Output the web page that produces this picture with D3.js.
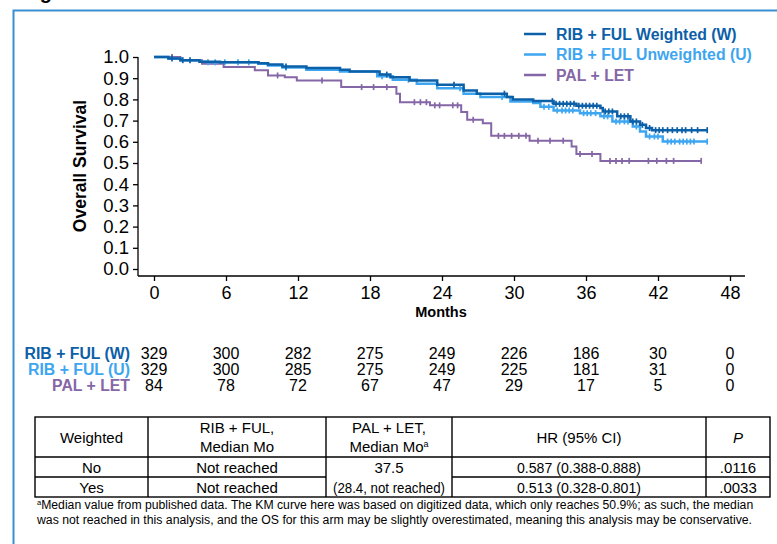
<!DOCTYPE html>
<html>
<head>
<meta charset="utf-8">
<script src="https://cdn.jsdelivr.net/npm/d3@7"></script>
<style>
	body { margin: 0; background: #fff; }
	svg { display: block; font-family: Arial, 'Liberation Sans', sans-serif; }
	.narrow { font-family: 'Liberation Sans Narrow', 'Arial Narrow', Arial, 'Liberation Sans', sans-serif; }
</style>
</head>
<body>
<div id="chart"></div>
<script>
// ---- data ----
const monthTicks = [ 0, 6, 12, 18, 24, 30, 36, 42, 48 ];
const survTicks = [ 0, 0.1, 0.2, 0.3, 0.4, 0.5, 0.6, 0.7, 0.8, 0.9, 1.0 ];

// KM steps: [month, survival after the drop]
const wSteps = [
	[ 0, 1.0 ], [ 1.2, 0.993 ], [ 2.2, 0.985 ], [ 3.8, 0.978 ], [ 5.5, 0.975 ], [ 8.7, 0.97 ], [ 9.5, 0.965 ],
	[ 10.7, 0.955 ], [ 12.7, 0.948 ], [ 15.5, 0.94 ], [ 16.3, 0.932 ], [ 18.8, 0.917 ], [ 19.7, 0.905 ],
	[ 21.3, 0.889 ], [ 23.6, 0.869 ], [ 25.8, 0.842 ], [ 26.9, 0.827 ], [ 29.4, 0.811 ], [ 29.9, 0.8 ],
	[ 31.6, 0.792 ], [ 33.3, 0.779 ], [ 35.2, 0.77 ], [ 37.2, 0.759 ], [ 37.4, 0.743 ], [ 38.6, 0.72 ],
	[ 39.7, 0.696 ], [ 40.5, 0.68 ], [ 41, 0.665 ], [ 41.5, 0.655 ], [ 46.1, 0.655 ]
];
const uSteps = [
	[ 0, 1.0 ], [ 1.2, 0.993 ], [ 2.2, 0.985 ], [ 3.8, 0.978 ], [ 4.5, 0.975 ], [ 8.7, 0.968 ], [ 9.5, 0.96 ],
	[ 10.7, 0.95 ], [ 12.7, 0.94 ], [ 15.5, 0.932 ], [ 18.6, 0.909 ], [ 19.9, 0.893 ], [ 21.9, 0.874 ],
	[ 23.6, 0.853 ], [ 25.8, 0.827 ], [ 27.2, 0.811 ], [ 29.7, 0.79 ], [ 31.6, 0.783 ], [ 32.2, 0.765 ],
	[ 33.3, 0.748 ], [ 35.5, 0.735 ], [ 37.2, 0.72 ], [ 38.2, 0.696 ], [ 39.9, 0.672 ], [ 40.5, 0.649 ],
	[ 41, 0.625 ], [ 42.4, 0.601 ], [ 46.1, 0.601 ]
];
const palSteps = [
	[ 0, 1.0 ], [ 2.2, 0.985 ], [ 4, 0.968 ], [ 5.8, 0.953 ], [ 8.4, 0.937 ], [ 9.5, 0.913 ], [ 10.9, 0.905 ],
	[ 11.9, 0.889 ], [ 15.6, 0.858 ], [ 20.2, 0.827 ], [ 20.5, 0.787 ], [ 23, 0.772 ], [ 25.6, 0.74 ],
	[ 26.1, 0.704 ], [ 27.4, 0.688 ], [ 28.1, 0.628 ], [ 31.3, 0.605 ], [ 34.8, 0.578 ], [ 35.2, 0.543 ],
	[ 37.2, 0.51 ], [ 45.6, 0.51 ]
];

// censored observations (months)
const wCensor = [ 1.5, 2.4, 3.0, 11.0, 19.4, 25.0, 29.2, 33.2, 33.5, 33.8, 34.1, 34.4, 34.7, 35.0, 35.4, 35.7,
	36.0, 36.3, 36.6, 36.9, 37.6, 37.9, 38.2, 38.9, 39.2, 39.5, 39.9, 40.2, 40.7, 41.3, 41.8, 42.1, 42.4, 42.8,
	43.2, 43.6, 44.0, 44.3, 44.8, 45.3, 46.1 ];
const uCensor = [ 4.5, 5.1, 5.9, 7.0, 7.9, 11.0, 19.0, 21.2, 25.5, 29.0, 32.5, 32.9, 33.6, 34.0, 34.3, 34.6,
	34.9, 35.8, 36.1, 36.4, 36.8, 37.5, 37.8, 38.5, 38.8, 39.2, 39.5, 40.2, 41.3, 41.7, 42.0, 42.8, 43.1, 43.4,
	43.8, 44.1, 44.4, 44.7, 45.0, 46.1 ];
const palCensor = [ 1.5, 10.3, 14.0, 17.3, 18.3, 19.4, 21.7, 22.2, 22.7, 23.4, 23.8, 24.9, 25.3, 26.6, 28.7,
	29.2, 29.8, 30.4, 31.0, 32.0, 33.0, 34.1, 35.5, 36.5, 38.0, 38.5, 39.0, 39.6, 41.2, 41.9, 42.7, 43.3, 45.6 ];

const seriesNames = [ 'RIB + FUL Weighted (W)', 'RIB + FUL Unweighted (U)', 'PAL + LET' ];
const seriesColors = [ '#0c60a8', '#3ea6f0', '#8566a6' ];

// numbers at risk
const riskLabels = [ 'RIB + FUL (W)', 'RIB + FUL (U)', 'PAL + LET' ];
const riskW = [ 329, 300, 282, 275, 249, 226, 186, 30, 0 ];
const riskU = [ 329, 300, 285, 275, 249, 225, 181, 31, 0 ];
const riskPal = [ 84, 78, 72, 67, 47, 29, 17, 5, 0 ];

// summary table
const tableHeader = [ [ 'Weighted' ], [ 'RIB + FUL,', 'Median Mo' ], [ 'PAL + LET,', 'Median Mo' ], [ 'HR (95% CI)' ], [ 'P' ] ];
const tableWeighted = [ 'No', 'Yes' ];
const tableRibMedian = [ 'Not reached', 'Not reached' ];
const tablePalMedian = [ '37.5', '(28.4, not reached)' ];
const tableHR = [ '0.587 (0.388-0.888)', '0.513 (0.328-0.801)' ];
const tableP = [ '.0116', '.0033' ];
const footnote = [
	'Median value from published data. The KM curve here was based on digitized data, which only reaches 50.9%; as such, the median',
	'was not reached in this analysis, and the OS for this arm may be slightly overestimated, meaning this analysis may be conservative.'
];

// ---- layout ----
const dimensions = { width: 777, height: 544 };
const plot = { left: 138, right: 745, top: 57, yZero: 269, axisY: 276 };

const svg = d3.select('#chart').append('svg').attr('width', dimensions.width).attr('height', dimensions.height);

// frame of the slide panel
svg.append('rect').attr('x', 13.5).attr('y', 10.5).attr('width', 820).attr('height', 600)
	.attr('fill', 'none').attr('stroke', '#3a8fd2').attr('stroke-width', 2);
// cut-off heading above the panel
svg.append('text').attr('x', 22).attr('y', -1).attr('font-size', 20).attr('font-weight', 'bold').text('Fig');

const x = d3.scaleLinear().domain([ 0, 48 ]).range([ 154, 730 ]);
const y = d3.scaleLinear().domain([ 0, 1 ]).range([ plot.yZero, plot.top ]);

// y axis
const yAxis = svg.append('g').attr('transform', `translate(${plot.left},0)`)
	.call(d3.axisLeft(y).tickValues(survTicks).tickFormat(d3.format('.1f')).tickSize(5).tickPadding(4));
yAxis.select('.domain').attr('d', `M0,${plot.top}V${plot.axisY}`).attr('stroke-width', 1.3);
yAxis.selectAll('text').attr('font-size', 18.5).attr('fill', '#000').attr('font-family', 'Arial, Liberation Sans');
yAxis.selectAll('line').attr('stroke-width', 1.3);

// x axis
const xAxis = svg.append('g').attr('transform', `translate(0,${plot.axisY})`)
	.call(d3.axisBottom(x).tickValues(monthTicks).tickSize(5).tickPadding(5));
xAxis.select('.domain').attr('d', `M${plot.left},0H${plot.right}`).attr('stroke-width', 1.3);
xAxis.selectAll('text').attr('font-size', 18).attr('fill', '#000').attr('font-family', 'Arial, Liberation Sans');
xAxis.selectAll('line').attr('stroke-width', 1.3);

svg.append('text').attr('x', 441).attr('y', 317).attr('text-anchor', 'middle')
	.attr('font-size', 14.5).attr('font-weight', 'bold').text('Months');
svg.append('text').attr('transform', 'translate(86,166) rotate(-90)').attr('text-anchor', 'middle')
	.attr('font-size', 17.5).attr('font-weight', 'bold').text('Overall Survival');

// KM curves
const line = d3.line().x((d) => x(d[0])).y((d) => y(d[1])).curve(d3.curveStepAfter);
function survAt(steps, t) {
	let s = steps[0][1];
	steps.forEach((d) => { if (d[0] <= t) s = d[1]; });
	return s;
}
const curves = [
	{ steps: palSteps, censor: palCensor, color: seriesColors[2], width: 2 },
	{ steps: uSteps, censor: uCensor, color: seriesColors[1], width: 2.5 },
	{ steps: wSteps, censor: wCensor, color: seriesColors[0], width: 2.5 }
];
curves.forEach((c) => {
	svg.append('path').datum(c.steps).attr('d', line).attr('fill', 'none')
		.attr('stroke', c.color).attr('stroke-width', c.width);
	svg.append('g').selectAll('line').data(c.censor).enter().append('line')
		.attr('x1', (d) => x(d)).attr('x2', (d) => x(d))
		.attr('y1', (d) => y(survAt(c.steps, d)) - 3).attr('y2', (d) => y(survAt(c.steps, d)) + 3)
		.attr('stroke', c.color).attr('stroke-width', 1.7);
});

// legend
const legend = svg.append('g').attr('transform', 'translate(524,34)');
seriesNames.forEach((name, i) => {
	legend.append('line').attr('x1', 0).attr('x2', 22).attr('y1', i * 20.5).attr('y2', i * 20.5)
		.attr('stroke', seriesColors[i]).attr('stroke-width', 2.5);
	legend.append('text').attr('x', 32).attr('y', i * 20.5 + 5.5).attr('font-size', 15.8).attr('font-weight', 'bold')
		.attr('fill', seriesColors[i]).text(name);
});

// numbers at risk
const riskRows = [ riskW, riskU, riskPal ];
riskRows.forEach((row, i) => {
	const yy = 358.5 + i * 16;
	svg.append('text').attr('x', 130).attr('y', yy).attr('text-anchor', 'end').attr('font-size', 15.8)
		.attr('font-weight', 'bold').attr('fill', seriesColors[i]).text(riskLabels[i]);
	svg.append('g').selectAll('text').data(row).enter().append('text')
		.attr('x', (d, j) => x(monthTicks[j])).attr('y', yy).attr('text-anchor', 'middle')
		.attr('font-size', 16).text((d) => d);
});

// summary table
const cols = [ 35, 148, 326, 452, 706, 770 ];
const rows = [ 417, 457, 477, 497 ];
const table = svg.append('g').attr('class', 'narrow');
table.append('rect').attr('x', cols[0]).attr('y', rows[0]).attr('width', cols[5] - cols[0])
	.attr('height', rows[3] - rows[0]).attr('fill', 'none').attr('stroke', '#000').attr('stroke-width', 1.4);
cols.slice(1, 5).forEach((cx) => {
	table.append('line').attr('x1', cx).attr('x2', cx).attr('y1', rows[0]).attr('y2', rows[3])
		.attr('stroke', '#000').attr('stroke-width', 1.4);
});
table.append('line').attr('x1', cols[0]).attr('x2', cols[5]).attr('y1', rows[1]).attr('y2', rows[1])
	.attr('stroke', '#000').attr('stroke-width', 1.4);
// PAL median cell spans both rows
[ [ cols[0], cols[2] ], [ cols[3], cols[5] ] ].forEach((seg) => {
	table.append('line').attr('x1', seg[0]).attr('x2', seg[1]).attr('y1', rows[2]).attr('y2', rows[2])
		.attr('stroke', '#000').attr('stroke-width', 1.4);
});
const mid = (i) => (cols[i] + cols[i + 1]) / 2;
tableHeader.forEach((lines, i) => {
	lines.forEach((ln, k) => {
		const t = table.append('text').attr('x', mid(i)).attr('text-anchor', 'middle').attr('font-size', 15)
			.attr('y', lines.length === 1 ? 442.5 : 432.5 + k * 19);
		if (i === 4) t.attr('font-style', 'italic');
		t.text(ln);
		if (i === 2 && k === 1) t.append('tspan').attr('font-size', 9).attr('dy', -5).text('a');
	});
});
[ tableWeighted, tableRibMedian, tablePalMedian, tableHR, tableP ].forEach((vals, i) => {
	vals.forEach((v, r) => {
		const t = table.append('text').attr('x', mid(i)).attr('y', 472.5 + r * 20).attr('text-anchor', 'middle')
			.attr('font-size', 15).text(v);
		if (v.length > 16) t.attr('textLength', i === 2 ? 112 : 124).attr('lengthAdjust', 'spacingAndGlyphs');
	});
});

// footnote
footnote.forEach((ln, i) => {
	const t = svg.append('text').attr('class', 'narrow').attr('x', 37).attr('y', 509 + i * 14.5).attr('font-size', 12);
	if (i === 0) t.append('tspan').attr('font-size', 7.5).attr('dy', -4).text('a');
	t.append('tspan').attr('dy', i === 0 ? 4 : 0).attr('textLength', i === 0 ? 712 : 715)
		.attr('lengthAdjust', 'spacingAndGlyphs').text(ln);
});
</script>
</body>
</html>
